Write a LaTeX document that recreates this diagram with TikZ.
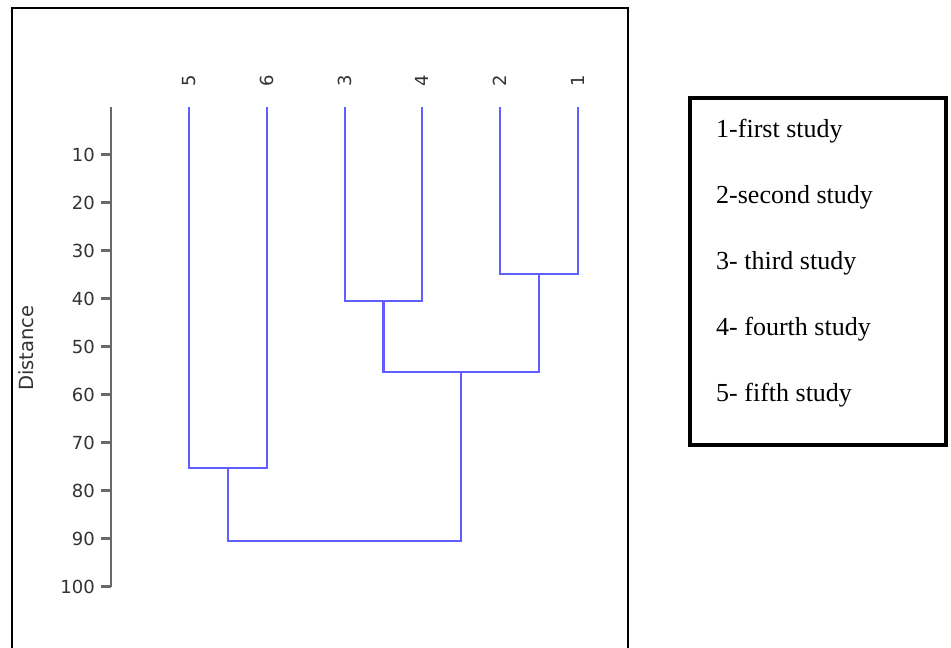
\documentclass[tikz,border=0pt]{standalone}
\usepackage{fontspec}
\setmainfont{Liberation Serif}
\newfontfamily\axfont{DejaVu Sans}
\definecolor{dendro}{RGB}{95,95,255}
\definecolor{axgray}{RGB}{105,105,105}
\definecolor{labgray}{RGB}{50,50,50}
\tikzset{
  frame/.style={draw=black, line width=2.5pt},
  legendbox/.style={draw=black, line width=4.5pt},
  branch/.style={draw=dendro, line width=2.5pt},
  axisline/.style={draw=axgray, line width=2.5pt},
  ticklab/.style={anchor=east, inner sep=0pt, text=labgray, font=\axfont\fontsize{18}{20}\selectfont},
  leaflab/.style={rotate=90, inner sep=0pt, text=labgray, font=\axfont\fontsize{18}{20}\selectfont},
  legtext/.style={anchor=base west, inner sep=0pt, font=\fontsize{26}{29}\selectfont},
}
\begin{document}
\begin{tikzpicture}[x=1pt,y=-1pt]
\useasboundingbox (0,0) rectangle (951,648);
% outer frame (bottom edge cut off)
\draw[frame] (12,660) -- (12,8) -- (628,8) -- (628,660);
% axis
\coordinate (axtop) at (111,107);
\coordinate (axbot) at (111,587);
\draw[axisline] (axtop) -- (axbot);
\foreach \d in {10,20,...,100}{
  \coordinate (t\d) at (111,106.5+4.8*\d);
  \coordinate (tl\d) at (101,106.5+4.8*\d);
  \draw[axisline] (t\d) -- (tl\d);
  \node[ticklab] (lab\d) at (95,106.5+4.8*\d) {\d};
}
\node[rotate=90, inner sep=0pt, text=labgray, font=\axfont\fontsize{19.5}{21}\selectfont] (dist) at (26,348) {Distance};
% leaves
\coordinate (l5) at (189,107);
\coordinate (l6) at (267,107);
\coordinate (l3) at (345,107);
\coordinate (l4) at (422,107);
\coordinate (l2) at (500,107);
\coordinate (l1) at (578,107);
\node[leaflab] (n5) at (189,81) {5};
\node[leaflab] (n6) at (267,81) {6};
\node[leaflab] (n3) at (345,81) {3};
\node[leaflab] (n4) at (422,81) {4};
\node[leaflab] (n2) at (500,81) {2};
\node[leaflab] (n1) at (578,81) {1};
% merge points
\coordinate (m56) at (228,468);
\coordinate (m34) at (383.5,301);
\coordinate (m21) at (539,274);
\coordinate (m3421) at (461,372);
\coordinate (root) at (344.5,541);
\draw[branch] (l5) |- (m56) -| (l6);
\draw[branch] (l3) |- (m34) -| (l4);
\draw[branch] (l2) |- (m21) -| (l1);
\draw[branch] (m34) |- (m3421) -| (m21);
\draw[branch] (m56) |- (root) -| (m3421);
% legend
\draw[legendbox] (690,98) rectangle (946,445);
\node[legtext] (e1) at (716,137) {1-first study};
\node[legtext] (e2) at (716,203) {2-second study};
\node[legtext] (e3) at (716,269) {3- third study};
\node[legtext] (e4) at (716,335) {4- fourth study};
\node[legtext] (e5) at (716,401) {5- fifth study};
\end{tikzpicture}
\end{document}
